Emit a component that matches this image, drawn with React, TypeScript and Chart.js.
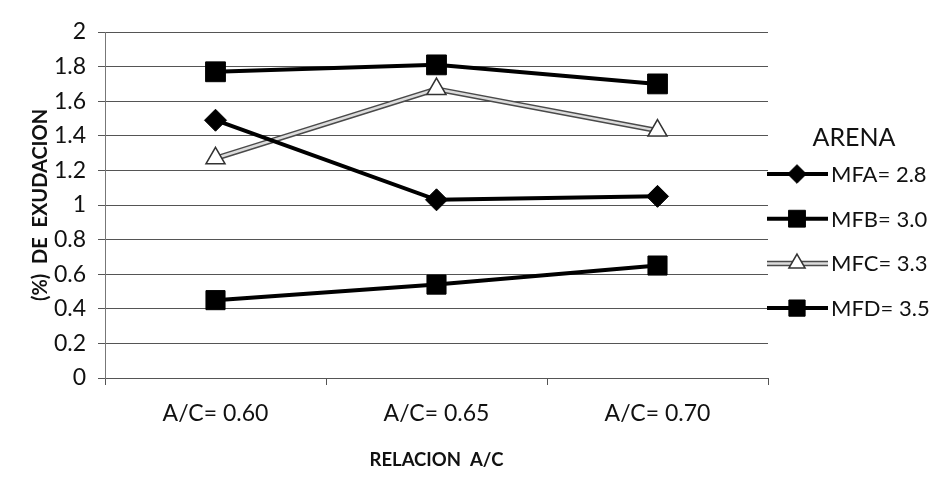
import React, { useEffect, useRef } from 'react';
import { Chart, registerables } from 'chart.js';
import { drawPoint } from 'chart.js/helpers';

Chart.register(...registerables);

const categories = ['A/C= 0.60', 'A/C= 0.65', 'A/C= 0.70'];
const seriesNames = ['MFA= 2.8', 'MFB= 3.0', 'MFC= 3.3', 'MFD= 3.5'];
const mfaValues = [1.49, 1.03, 1.05];
const mfbValues = [1.77, 1.81, 1.7];
const mfcValues = [1.27, 1.67, 1.43];
const mfdValues = [0.45, 0.54, 0.65];
const yTickValues = [0, 0.2, 0.4, 0.6, 0.8, 1, 1.2, 1.4, 1.6, 1.8, 2];
const legendTitle = 'ARENA';
const yTitle = '(%)  DE  EXUDACION';
const xTitle = 'RELACION  A/C';

const FONT = 'Lato, "Open Sans", sans-serif';

// index of the series drawn as a light line with a dark outline
const OUTLINED = 2;

const outlinePlugin = {
  id: 'outlineLine',
  beforeDatasetDraw(chart: any, args: any) {
    if (args.index !== OUTLINED) return;
    const pts = chart.getDatasetMeta(OUTLINED).data;
    const ctx = chart.ctx;
    ctx.save();
    ctx.strokeStyle = '#4a4a4a';
    ctx.lineWidth = 5.5;
    ctx.lineJoin = 'round';
    ctx.beginPath();
    pts.forEach((p: any, i: number) => (i ? ctx.lineTo(p.x, p.y) : ctx.moveTo(p.x, p.y)));
    ctx.stroke();
    ctx.restore();
  },
};

const legendPlugin = {
  id: 'customLegend',
  afterDraw(chart: any) {
    const ctx = chart.ctx;
    ctx.save();
    ctx.fillStyle = '#111';
    ctx.textBaseline = 'middle';
    ctx.textAlign = 'center';
    ctx.font = `25px ${FONT}`;
    ctx.fillText(legendTitle, 854, 138);
    ctx.textAlign = 'left';
    ctx.font = `22px ${FONT}`;
    chart.data.datasets.forEach((ds: any, i: number) => {
      const y = 174 + i * 44.7;
      if (i === OUTLINED) {
        ctx.strokeStyle = '#4a4a4a';
        ctx.lineWidth = 5.5;
        ctx.beginPath();
        ctx.moveTo(767, y);
        ctx.lineTo(828, y);
        ctx.stroke();
      }
      ctx.strokeStyle = ds.borderColor;
      ctx.lineWidth = ds.borderWidth;
      ctx.beginPath();
      ctx.moveTo(767, y);
      ctx.lineTo(828, y);
      ctx.stroke();
      ctx.fillStyle = ds.pointBackgroundColor;
      ctx.strokeStyle = ds.pointBorderColor;
      ctx.lineWidth = ds.pointBorderWidth;
      drawPoint(ctx, { pointStyle: ds.pointStyle, radius: ds.pointRadius * 0.85, rotation: 0, borderWidth: ds.pointBorderWidth }, 797, y);
      ctx.fillStyle = '#111';
      ctx.fillText(ds.label, 831, y + 1);
    });
    ctx.restore();
  },
};

export default function App() {
  const ref = useRef<HTMLCanvasElement>(null);
  useEffect(() => {
    const canvas = ref.current;
    if (!canvas) return;
    const mk = (label: string, data: number[], style: string, color: string, bw: number, r: number, fill: string, pb: string, pbw: number) => ({
      label,
      data,
      borderColor: color,
      borderWidth: bw,
      pointStyle: style,
      pointRadius: r,
      pointHoverRadius: r,
      pointBackgroundColor: fill,
      pointBorderColor: pb,
      pointBorderWidth: pbw,
      tension: 0,
    });
    const chart = new Chart(canvas, {
      type: 'line',
      data: {
        labels: categories,
        datasets: [
          mk(seriesNames[0], mfaValues, 'rectRot', '#000', 4, 11, '#000', '#000', 1),
          mk(seriesNames[1], mfbValues, 'rect', '#000', 4, 14, '#000', '#000', 1),
          mk(seriesNames[2], mfcValues, 'triangle', '#dcdcdc', 2.5, 11, '#fff', '#333', 1.5),
          mk(seriesNames[3], mfdValues, 'rect', '#000', 4, 13.5, '#000', '#000', 1),
        ],
      },
      options: {
        responsive: false,
        animation: false,
        devicePixelRatio: 1,
        layout: { padding: { left: 0, top: 32, right: 177, bottom: 0 } },
        plugins: {
          legend: { display: false },
          tooltip: { enabled: false },
        },
        scales: {
          x: {
            offset: true,
            grid: { display: true, drawOnChartArea: false, color: '#555', tickLength: 7, offset: true },
            border: { display: true, color: '#555', width: 1 },
            ticks: { color: '#111', font: { family: FONT, size: 23 }, padding: 15, maxRotation: 0 },
            title: { display: true, text: xTitle, color: '#111', font: { family: FONT, size: 18.5, weight: 'bold' }, padding: { top: 0, bottom: 9 } },
            afterFit: (s: any) => { s.height = 102; },
          },
          y: {
            min: 0,
            max: 2,
            afterBuildTicks: (s: any) => { s.ticks = yTickValues.map((v) => ({ value: v })); },
            grid: { color: '#555', lineWidth: 1, tickLength: 7 },
            border: { display: true, color: '#777', width: 1 },
            ticks: {
              color: '#111',
              font: { family: FONT, size: 23 },
              padding: 12,
              callback: (v: any) => String(Number(Number(v).toFixed(1))),
            },
            title: { display: true, text: yTitle, color: '#111', font: { family: FONT, size: 20, weight: 'bold' }, padding: { top: 29, bottom: 0 } },
            afterFit: (s: any) => { s.width = 105; },
          },
        },
      },
      plugins: [outlinePlugin, legendPlugin],
    } as any);
    return () => chart.destroy();
  }, []);
  return (
    <div style={{ position: 'absolute', left: 0, top: 0, width: 945, height: 480, background: '#fff' }}>
      <canvas ref={ref} width={945} height={480} />
    </div>
  );
}
